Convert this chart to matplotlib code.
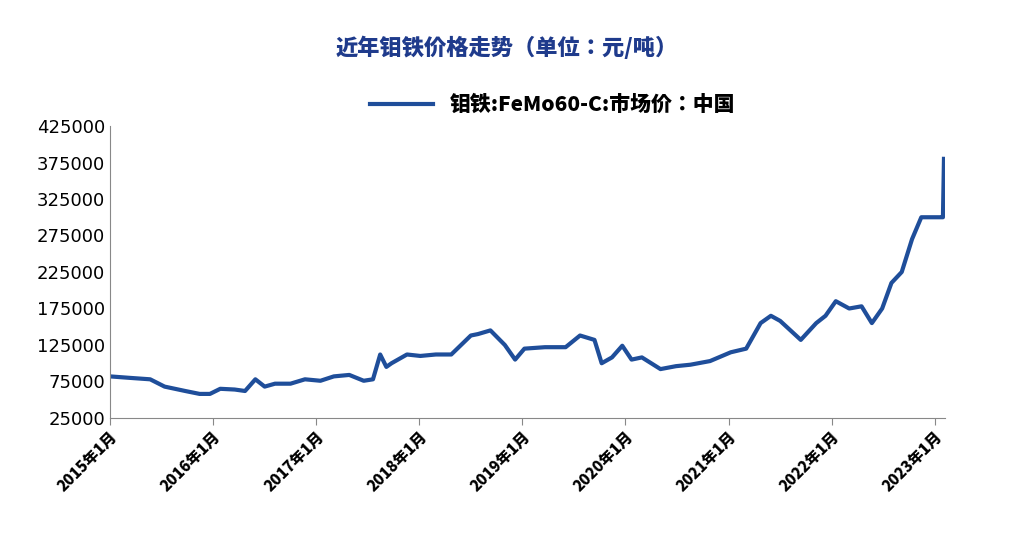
import matplotlib
matplotlib.use("Agg")
import matplotlib.pyplot as plt
from matplotlib import font_manager as fm
import datetime as dt

cjk = None
for f in fm.fontManager.ttflist:
    if "CJK" in f.name and "SC" in f.name:
        cjk = f.fname; break
if cjk is None:
    for p in fm.findSystemFonts():
        if "CJK" in p:
            cjk = p; break
fp = lambda size, **kw: fm.FontProperties(fname=cjk, size=size, **kw) if cjk else fm.FontProperties(size=size, **kw)

# decimal-year positions and prices
years = [2015.00,2015.19,2015.39,2015.53,2015.73,2015.87,2015.97,2016.07,2016.21,2016.31,2016.41,2016.50,2016.60,2016.75,2016.89,2017.04,2017.17,2017.32,2017.46,2017.55,2017.62,2017.68,2017.73,2017.88,2018.01,2018.16,2018.31,2018.50,2018.57,2018.69,2018.83,2018.93,2019.02,2019.22,2019.42,2019.56,2019.70,2019.77,2019.87,2019.97,2020.06,2020.16,2020.34,2020.49,2020.63,2020.82,2021.02,2021.17,2021.31,2021.41,2021.50,2021.70,2021.85,2021.94,2022.04,2022.17,2022.29,2022.39,2022.49,2022.58,2022.68,2022.78,2022.87,2022.97,2023.03,2023.07,2023.08,2023.09]
prices = [82000,80000,78000,68000,62000,58000,58000,65000,64000,62000,78000,68000,72000,72000,78000,76000,82000,84000,76000,78000,112000,95000,100000,112000,110000,112000,112000,138000,140000,145000,125000,105000,120000,122000,122000,138000,132000,100000,108000,124000,105000,108000,92000,96000,98000,103000,115000,120000,155000,165000,158000,132000,155000,165000,185000,175000,178000,155000,175000,210000,225000,270000,300000,300000,300000,300000,300000,380000]

yticks = [25000,75000,125000,175000,225000,275000,325000,375000,425000]
xlabels = [f"{y}年1月" for y in range(2015, 2024)]

def todate(y):
    yi = int(y)
    start = dt.datetime(yi,1,1)
    return start + (dt.datetime(yi+1,1,1)-start)*(y-yi)

dates = [todate(y) for y in years]

fig = plt.figure(figsize=(10.14,5.55), dpi=100)
ax = fig.add_axes([110/1014, 1-418/555, 835/1014, 292/555])
ax.plot(dates, prices, color="#1F4E9A", lw=3, label="钼铁:FeMo60-C:市场价：中国")
ax.set_ylim(25000, 425000)
ax.set_yticks(yticks)
ax.set_yticklabels([str(v) for v in yticks], fontsize=13, family="DejaVu Sans")
ax.set_xlim(todate(2015.0), todate(2023.1))
ax.set_xticks([dt.datetime(y,1,1) for y in range(2015,2024)])
ax.set_xticklabels(xlabels, rotation=45, ha="right", rotation_mode="anchor", fontproperties=fp(11, weight="bold"))
for s in ["top","right"]:
    ax.spines[s].set_visible(False)
ax.spines["left"].set_color("#888888")
ax.spines["bottom"].set_color("#888888")
ax.tick_params(axis="y", length=0)
ax.tick_params(axis="x", length=5, color="#888888")
fig.text(0.5, 1-48/555, "近年钼铁价格走势（单位：元/吨）", ha="center", va="center", fontproperties=fp(16), color="#1F3B8C")
ax.legend(loc="center", bbox_to_anchor=(0.53, (418-105)/292), frameon=False, prop=fp(15), handlelength=3)
fig.savefig("out.png", dpi=100)
